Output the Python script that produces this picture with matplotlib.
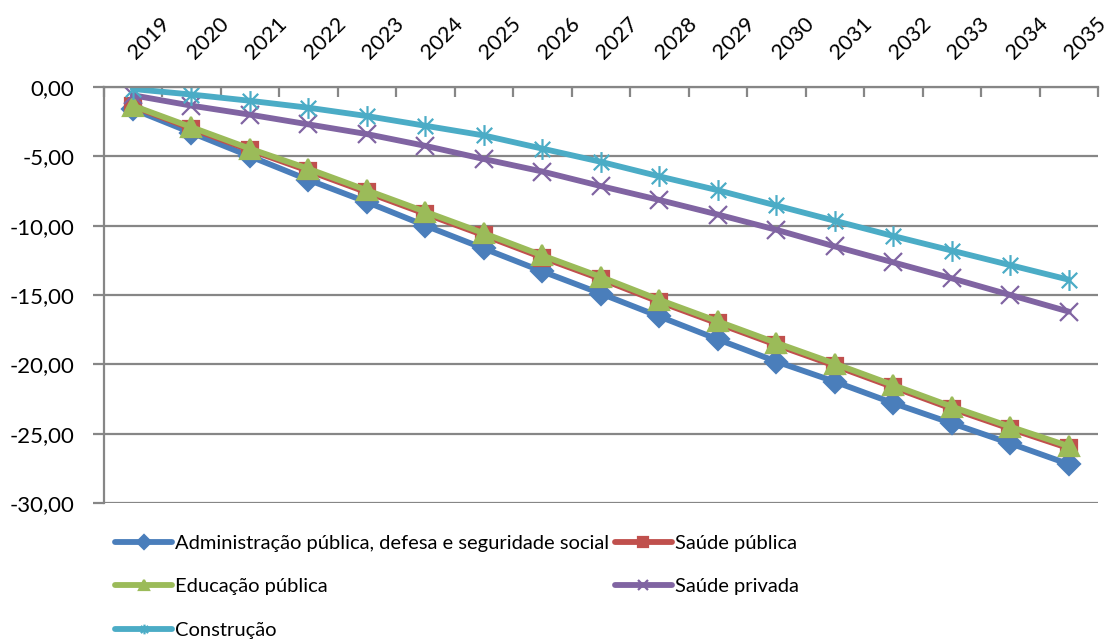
import copy
import matplotlib.pyplot as plt
from matplotlib.path import Path
from matplotlib.ticker import FuncFormatter
from matplotlib.transforms import ScaledTranslation

plt.rcParams['font.family'] = ['Lato', 'DejaVu Sans']

years = [str(y) for y in range(2019, 2036)]

administracao = [-1.6, -3.3, -5.0, -6.7, -8.3, -10.0, -11.65, -13.3, -14.9, -16.55,
                 -18.2, -19.8, -21.25, -22.8, -24.25, -25.7, -27.2]
saude_publica = [-1.4, -3.0, -4.55, -6.05, -7.6, -9.15, -10.7, -12.3, -13.85, -15.5,
                 -17.05, -18.6, -20.1, -21.65, -23.2, -24.65, -26.05]
educacao_publica = [-1.35, -2.9, -4.45, -5.9, -7.45, -9.0, -10.55, -12.15, -13.7, -15.35,
                    -16.9, -18.45, -19.95, -21.5, -23.05, -24.5, -25.9]
saude_privada = [-0.6, -1.35, -2.0, -2.7, -3.4, -4.25, -5.2, -6.1, -7.15, -8.15,
                 -9.2, -10.3, -11.5, -12.65, -13.8, -15.0, -16.2]
construcao = [-0.15, -0.55, -1.0, -1.5, -2.1, -2.8, -3.5, -4.45, -5.4, -6.45,
              -7.45, -8.55, -9.65, -10.75, -11.8, -12.85, -13.9]

# asterisk marker: an X with a vertical bar through it
star = Path([(-1, -1), (1, 1), (-1, 1), (1, -1), (0, -1.35), (0, 1.35)],
            [Path.MOVETO, Path.LINETO, Path.MOVETO, Path.LINETO, Path.MOVETO, Path.LINETO])

series = [
    ("Administração pública, defesa e seguridade social", administracao, '#4A7EBB', 'D', 11),
    ("Saúde pública", saude_publica, '#C0504D', 's', 12),
    ("Educação pública", educacao_publica, '#9BBB59', '^', 14),
    ("Saúde privada", saude_privada, '#8064A2', 'x', 13),
    ("Construção", construcao, '#4BACC6', star, 15),
]

fig = plt.figure(figsize=(11.09, 6.39), dpi=100)
ax = fig.add_axes([0.0934, 0.2128, 0.8967, 0.6512])

x = list(range(len(years)))
lines = {}
for label, vals, color, marker, ms in series:
    ln, = ax.plot(x, vals, color=color, lw=4.2, marker=marker, markersize=ms,
                  markeredgecolor=color, markerfacecolor=color, markeredgewidth=1.6,
                  label=label, solid_capstyle='round')
    lines[label] = ln

ax.set_xlim(-0.5, len(years) - 0.5)
ax.set_ylim(-30, 0)
ax.set_yticks(range(-30, 1, 5))
ax.yaxis.set_major_formatter(FuncFormatter(lambda v, p: f"{v:.2f}".replace('.', ',')))
ax.grid(axis='y', color='#868686', lw=1.6)
ax.set_axisbelow(True)

# years on top, tick marks between categories
ax.xaxis.tick_top()
ax.set_xticks([i - 0.5 for i in range(len(years) + 1)])
ax.tick_params(axis='x', which='major', direction='in', length=7, width=1.6,
               color='#868686', labeltop=False)
ax.set_xticks(x, minor=True)
ax.set_xticklabels(years, minor=True, rotation=45, ha='left', va='bottom', fontsize=15.5)
ax.tick_params(axis='x', which='minor', length=0, pad=17)
shift = ScaledTranslation(-8 / 100, 0, fig.dpi_scale_trans)
for t in ax.get_xticklabels(minor=True):
    t.set_transform(t.get_transform() + shift)

ax.tick_params(axis='y', direction='out', length=8, width=1.6, color='#868686',
               labelsize=16, pad=13)

for side in ['right', 'bottom']:
    ax.spines[side].set_visible(False)
for side in ['left', 'top']:
    ax.spines[side].set_color('#868686')
    ax.spines[side].set_linewidth(1.6)

# legend filled row by row: two columns
order = ["Administração pública, defesa e seguridade social", "Educação pública", "Construção",
         "Saúde pública", "Saúde privada"]
leg_handles = []
for k in order:
    c = copy.copy(lines[k])
    c.set_markersize(7)
    leg_handles.append(c)
fig.legend(leg_handles, order, loc='upper left', bbox_to_anchor=(0.1037, 0.1626),
           ncol=2, frameon=False, fontsize=14.5, handlelength=2.85, handletextpad=0.15,
           columnspacing=0.25, labelspacing=1.3, borderaxespad=0, borderpad=0)

fig.savefig('out.png', dpi=100)
